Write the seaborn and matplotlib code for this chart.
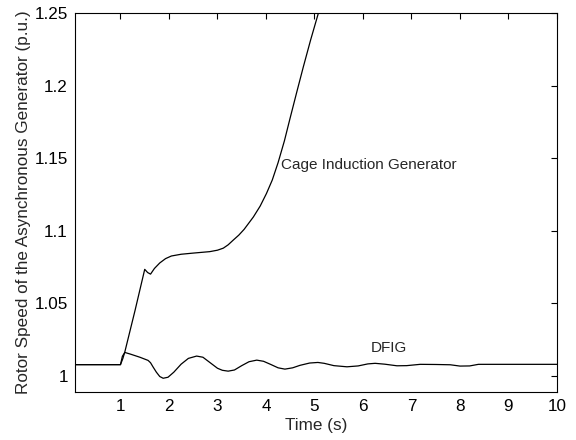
import matplotlib
matplotlib.use("Agg")
import matplotlib.pyplot as plt
import seaborn as sns
import pandas as pd

# values
cage_t = [0.06, 1.00, 1.05, 1.09, 1.30, 1.50, 1.56, 1.62, 1.70, 1.81, 1.93, 2.05,
          2.25, 2.50, 2.84, 3.00, 3.12, 3.22, 3.32, 3.44, 3.55, 3.74, 3.88, 4.01,
          4.13, 4.25, 4.38, 4.50, 4.63, 4.77, 4.92, 5.08, 5.15]
cage_w = [1.0077, 1.0077, 1.0120, 1.0165, 1.0450, 1.0734, 1.0712, 1.0701, 1.0740,
          1.0778, 1.0808, 1.0826, 1.0838, 1.0846, 1.0856, 1.0866, 1.0880, 1.0903,
          1.0934, 1.0970, 1.1010, 1.1095, 1.1170, 1.1257, 1.1350, 1.1470, 1.1620,
          1.1780, 1.1950, 1.2130, 1.2315, 1.2500, 1.2590]

dfig_t = [0.06, 1.00, 1.04, 1.09, 1.20, 1.40, 1.57, 1.62, 1.67, 1.74, 1.81, 1.88,
          1.98, 2.10, 2.25, 2.40, 2.57, 2.70, 2.85, 3.00, 3.10, 3.22, 3.35, 3.50,
          3.65, 3.81, 3.95, 4.10, 4.25, 4.39, 4.55, 4.70, 4.90, 5.07, 5.20, 5.40,
          5.67, 5.90, 6.10, 6.25, 6.45, 6.70, 6.90, 7.18, 7.50, 7.80, 8.00, 8.20,
          8.38, 10.0]
dfig_w = [1.0077, 1.0077, 1.0135, 1.0161, 1.0150, 1.0128, 1.0106, 1.0090, 1.0062,
          1.0025, 0.9995, 0.9983, 0.9990, 1.0025, 1.0080, 1.0120, 1.0136, 1.0128,
          1.0090, 1.0052, 1.0038, 1.0032, 1.0040, 1.0070, 1.0097, 1.0108, 1.0100,
          1.0078, 1.0055, 1.0046, 1.0055, 1.0072, 1.0088, 1.0092, 1.0086, 1.0070,
          1.0062, 1.0068, 1.0082, 1.0086, 1.0080, 1.0069, 1.0070, 1.0079, 1.0078,
          1.0076, 1.0067, 1.0068, 1.0079, 1.0079]

x_ticks = [1, 2, 3, 4, 5, 6, 7, 8, 9, 10]
y_ticks = [1, 1.05, 1.1, 1.15, 1.2, 1.25]
y_tick_labels = ["1", "1.05", "1.1", "1.15", "1.2", "1.25"]

sns.set_style("white")
plt.rcParams["font.family"] = ["Liberation Sans", "DejaVu Sans"]

fig = plt.figure(figsize=(5.76, 4.4), dpi=100)
ax = fig.add_axes([0.130, 0.109, 0.837, 0.861])

cage = pd.DataFrame({"t": cage_t, "w": cage_w})
dfig = pd.DataFrame({"t": dfig_t, "w": dfig_w})
sns.lineplot(data=cage, x="t", y="w", color="black", linewidth=0.9, ax=ax, sort=False)
sns.lineplot(data=dfig, x="t", y="w", color="black", linewidth=0.9, ax=ax, sort=False)

ax.set_xlim(0.06, 10)
ax.set_ylim(0.9888, 1.25)
ax.set_xticks(x_ticks)
ax.set_xticklabels([str(v) for v in x_ticks])
ax.set_yticks(y_ticks)
ax.set_yticklabels(y_tick_labels)
ax.tick_params(direction="in", length=4.3, width=0.8, labelsize=12.3,
               top=True, right=True, colors="black", pad=5)

for s in ax.spines.values():
    s.set_visible(True)
    s.set_color("black")
    s.set_linewidth(0.8)

ax.set_xlabel("Time (s)", fontsize=12.3, labelpad=3)
ax.set_ylabel("Rotor Speed of the Asynchronous Generator (p.u.)", fontsize=12.3, labelpad=3)

ax.text(4.32, 1.1452, "Cage Induction Generator", fontsize=11, va="center", ha="left")
ax.text(6.15, 1.0189, "DFIG", fontsize=11, va="center", ha="left")

fig.savefig("out.png", dpi=100)
